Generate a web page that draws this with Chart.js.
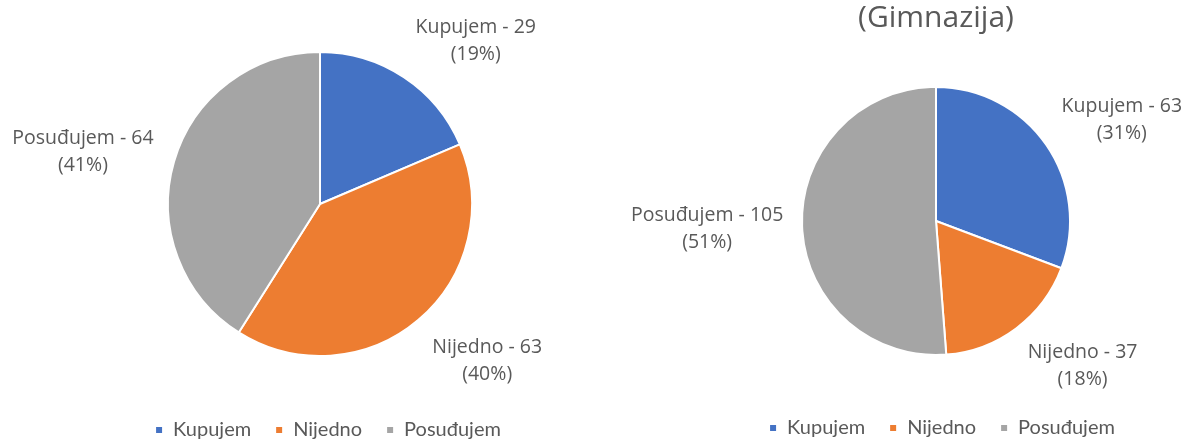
<!DOCTYPE html>
<html>
<head>
<meta charset="utf-8">
<script src="https://cdn.jsdelivr.net/npm/chart.js@4"></script>
<style>
  html, body { margin: 0; padding: 0; background: #fff; overflow: hidden; }
  body { width: 1184px; height: 439px; position: relative; }
  .box { position: absolute; top: 0; }
  #leftBox { left: 0; width: 640px; height: 450px; }
  #rightBox { left: 598px; width: 676px; height: 448px; }
</style>
</head>
<body>
<div class="box" id="leftBox"><canvas id="leftChart" width="640" height="450"></canvas></div>
<div class="box" id="rightBox"><canvas id="rightChart" width="676" height="448"></canvas></div>
<script>
const categories = ['Kupujem', 'Nijedno', 'Posuđujem'];
const leftValues = [29, 63, 64];
const rightValues = [63, 37, 105];
const rightTitle = '(Gimnazija)';

const sliceColors = ['#4472C4', '#ED7D31', '#A5A5A5'];
const textColor = '#595959';
const labelFont = '"Open Sans", sans-serif';
const legendFont = 'Lato, sans-serif';

// "Name - value" / "(pct%)" labels placed just outside each slice
const outsideLabels = {
  id: 'outsideLabels',
  afterDatasetsDraw(chart, args, opts) {
    const ctx = chart.ctx;
    const meta = chart.getDatasetMeta(0);
    const values = chart.data.datasets[0].data;
    const total = values.reduce((a, b) => a + b, 0);
    const size = 19.5, lineH = 27;
    const dy = opts.dy || 0;
    ctx.save();
    ctx.font = size + 'px ' + labelFont;
    ctx.fillStyle = textColor;
    ctx.textAlign = 'center';
    ctx.textBaseline = 'middle';
    meta.data.forEach((arc, i) => {
      const p = arc.getProps(['x', 'y', 'startAngle', 'endAngle', 'outerRadius'], true);
      const mid = (p.startAngle + p.endAngle) / 2;
      const ax = p.x + Math.cos(mid) * p.outerRadius * 1.14;
      const ay = p.y + Math.sin(mid) * p.outerRadius * 1.14;
      const lines = [chart.data.labels[i] + ' - ' + values[i], '(' + Math.round(values[i] / total * 100) + '%)'];
      const w = Math.max(...lines.map(t => ctx.measureText(t).width));
      const h = lineH * lines.length;
      const clamp = v => Math.max(-1, Math.min(1, v));
      const cx = ax + (w / 2) * clamp(2 * Math.cos(mid));
      const cy = ay + (h / 2) * clamp(Math.sin(mid)) + dy;
      lines.forEach((t, j) => {
        ctx.fillText(t, cx, cy - h / 2 + lineH * (j + 0.5));
      });
    });
    ctx.restore();
  }
};

// nudge the legend sideways relative to the pie
const legendShift = {
  id: 'legendShift',
  afterLayout(chart, args, opts) {
    if (chart.legend && opts.dx) {
      chart.legend.left += opts.dx;
      chart.legend.right += opts.dx;
    }
  }
};

function pieConfig(values, radius, padding, legendDx, labelDy, title) {
  return {
    type: 'pie',
    data: {
      labels: categories,
      datasets: [{
        data: values,
        backgroundColor: sliceColors,
        borderColor: '#ffffff',
        borderWidth: 2,
        radius: radius
      }]
    },
    options: {
      responsive: false,
      animation: false,
      layout: { padding: padding },
      plugins: {
        legendShift: { dx: legendDx },
        outsideLabels: { dy: labelDy },
        title: {
          display: !!title,
          text: title || '',
          color: textColor,
          font: { family: labelFont, size: 30, weight: 'normal' },
          padding: { top: 0, bottom: 12 }
        },
        legend: {
          position: 'bottom',
          labels: {
            color: textColor,
            font: { family: legendFont, size: 20 },
            boxWidth: 8,
            boxHeight: 8,
            padding: 24
          }
        },
        tooltip: { enabled: false }
      }
    },
    plugins: [outsideLabels, legendShift]
  };
}

new Chart(document.getElementById('leftChart'), pieConfig(leftValues, 152, { top: 12, bottom: 0 }, 8, 4));
new Chart(document.getElementById('rightChart'), pieConfig(rightValues, 134, { top: 0, bottom: 0 }, 6, 1, rightTitle));
</script>
</body>
</html>
